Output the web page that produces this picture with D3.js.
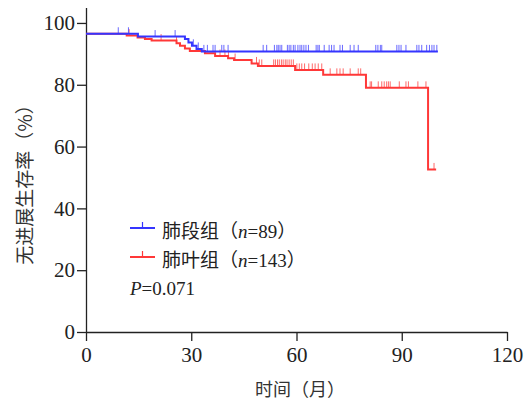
<!DOCTYPE html>
<html>
<head>
<meta charset="utf-8">
<script src="https://cdn.jsdelivr.net/npm/d3@7/dist/d3.min.js"></script>
<style>
  html, body { margin: 0; padding: 0; background: #fff; }
  svg { display: block; }
</style>
</head>
<body>
<svg id="chart" width="529" height="408"></svg>
<script>
// ---- data ----
const xTicks = [0, 30, 60, 90, 120];
const yTicks = [0, 20, 40, 60, 80, 100];

const seriesNames = ["肺段组", "肺叶组"];
const seriesN = [89, 143];
const pValue = "0.071";

// 肺段组 step curve (months, survival %)
const segTime = [0, 14.8, 28.2, 29.2, 30.2, 31.5, 33.0, 100.3];
const segSurv = [96.5, 95.6, 94.8, 93.7, 92.6, 91.6, 90.8, 90.8];
const segCensor = [9.2, 12.1, 19.7, 25.4, 30.6, 32.0, 33.6, 34.6, 36.2, 36.8, 38.7, 39.3, 40.5,
  50.5, 51.5, 53.7, 54.4, 54.8, 55.3, 55.8, 57.4, 57.9, 58.4, 59.1, 59.6, 60.4, 61.0, 61.5,
  62.1, 62.7, 63.4, 65.6, 66.1, 66.5, 67.9, 69.3, 70.0, 70.7, 72.4, 73.1, 75.3, 76.4, 77.6,
  82.6, 83.2, 83.9, 84.3, 88.6, 89.2, 89.8, 91.2, 94.3, 94.9, 95.7, 97.1, 97.9, 98.6, 99.2, 100.0];

// 肺叶组 step curve
const lobTime = [0, 11.6, 14.7, 16.8, 18.7, 25.8, 26.8, 28.2, 29.6, 33.9, 36.8, 40.5, 42.2, 47.2, 49.0, 59.6, 67.6, 79.8, 97.5, 99.8];
const lobSurv = [96.5, 95.9, 95.3, 94.8, 94.3, 93.4, 92.6, 91.7, 90.9, 90.2, 89.3, 88.6, 88.0, 86.9, 86.1, 84.8, 83.2, 79.0, 52.6, 52.6];
const lobCensor = [12.3, 21.4, 25.8, 38.2, 39.6, 40.6, 42.5, 48.6, 49.4, 50.1,
  53.5, 54.0, 54.6, 55.1, 55.7, 56.2, 56.8, 57.3, 57.9, 58.5, 59.1,
  60.1, 60.8, 61.5, 62.3, 63.5, 64.5, 65.3, 66.2, 67.2,
  69.6, 71.5, 72.4, 73.3, 75.3, 77.6, 78.3,
  81.0, 81.4, 83.3, 84.3, 85.0, 85.7, 86.2, 86.7, 89.3, 91.2, 91.9, 94.6, 96.9, 99.2];

const colors = ["#3535ff", "#ff3838"];

// ---- chart ----
const svg = d3.select("#chart");
const x = d3.scaleLinear().domain([0, 120]).range([86, 507]);
const y = d3.scaleLinear().domain([0, 105]).range([332, 7.5]);

const numFont = "'Liberation Serif', 'Times New Roman', serif";
const mixFont = "'Liberation Serif', 'Noto Sans CJK SC', serif";
const cjkFont = "'Noto Sans CJK SC', sans-serif";
const axisColor = "#222";

// axes
const xAxis = svg.append("g")
  .attr("transform", `translate(0,${y(0)})`)
  .call(d3.axisBottom(x).tickValues(xTicks).tickSize(9).tickSizeOuter(0).tickPadding(6));
const yAxis = svg.append("g")
  .attr("transform", `translate(${x(0)},0)`)
  .call(d3.axisLeft(y).tickValues(yTicks).tickSize(9).tickSizeOuter(0).tickPadding(2));
[xAxis, yAxis].forEach(g => {
  g.selectAll("path, line").attr("stroke", axisColor).attr("stroke-width", 1.3);
  g.selectAll("text").attr("font-family", numFont).attr("font-size", 21).attr("fill", axisColor);
});

// step curves
function stepData(t, s) { return t.map((d, i) => [d, s[i]]); }
function survAt(t, s, m) {
  let v = s[0];
  for (let i = 0; i < t.length; i++) if (t[i] <= m) v = s[i];
  return v;
}
const line = d3.line().x(d => x(d[0])).y(d => y(d[1])).curve(d3.curveStepAfter);

const series = [
  { t: lobTime, s: lobSurv, c: lobCensor, color: colors[1] },
  { t: segTime, s: segSurv, c: segCensor, color: colors[0] }
];
series.forEach(sr => {
  svg.append("path")
    .datum(stepData(sr.t, sr.s))
    .attr("d", line)
    .attr("fill", "none")
    .attr("stroke", sr.color)
    .attr("stroke-width", 2);
  svg.append("g").selectAll("line")
    .data(sr.c)
    .join("line")
    .attr("x1", d => x(d)).attr("x2", d => x(d))
    .attr("y1", d => y(survAt(sr.t, sr.s, d)))
    .attr("y2", d => y(survAt(sr.t, sr.s, d)) - 6.5)
    .attr("stroke", sr.color)
    .attr("stroke-opacity", 0.75)
    .attr("stroke-width", 1);
});

// legend
const legY = [228, 257];
seriesNames.forEach((name, i) => {
  const g = svg.append("g");
  g.append("line").attr("x1", 130).attr("x2", 155).attr("y1", legY[i]).attr("y2", legY[i])
    .attr("stroke", colors[i]).attr("stroke-width", 2);
  g.append("line").attr("x1", 142.5).attr("x2", 142.5).attr("y1", legY[i]).attr("y2", legY[i] - 6)
    .attr("stroke", colors[i]).attr("stroke-width", 1.2);
  const t = g.append("text").attr("x", 162).attr("y", legY[i] + 10)
    .attr("font-size", 19).attr("fill", axisColor).attr("font-family", mixFont);
  t.append("tspan").attr("font-family", cjkFont).text(name + "（");
  t.append("tspan").attr("font-style", "italic").text("n");
  t.append("tspan").text("=" + seriesN[i]);
  t.append("tspan").attr("font-family", cjkFont).text("）");
});
const pt = svg.append("text").attr("x", 130).attr("y", 295)
  .attr("font-size", 19).attr("fill", axisColor).attr("font-family", numFont);
pt.append("tspan").attr("font-style", "italic").text("P");
pt.append("tspan").text("=" + pValue);

// axis titles
svg.append("text")
  .attr("transform", "translate(32,180) rotate(-90)")
  .attr("text-anchor", "middle")
  .attr("font-family", cjkFont).attr("font-size", 19).attr("fill", "#333")
  .text("无进展生存率（%）");
svg.append("text")
  .attr("x", 300).attr("y", 396)
  .attr("text-anchor", "middle")
  .attr("font-family", cjkFont).attr("font-size", 18).attr("fill", "#333")
  .text("时间（月）");
</script>
</body>
</html>
